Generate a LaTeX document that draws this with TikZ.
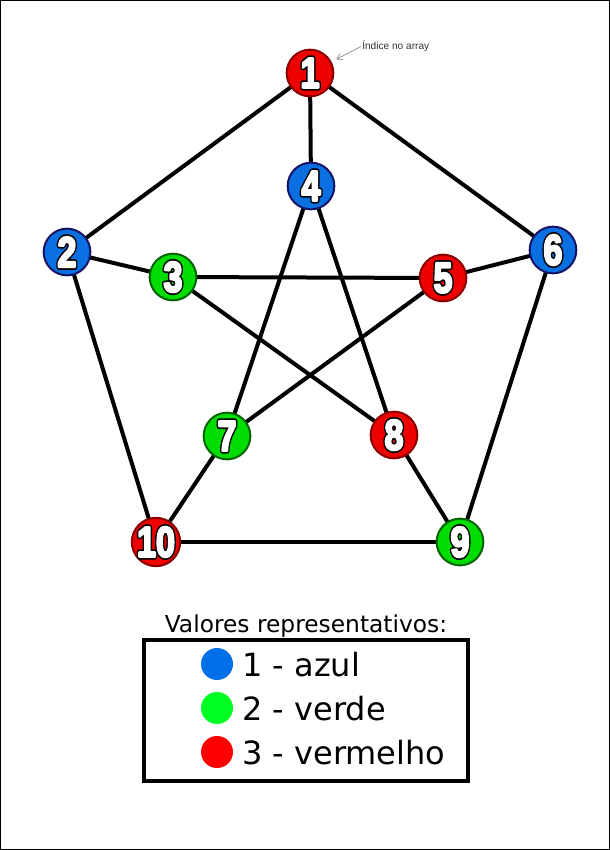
\documentclass[tikz,border=0pt]{standalone}
\usepackage{fontspec}
\setmainfont{DejaVu Sans}
\newfontfamily\numfont{Liberation Sans}
\newfontfamily\annfont{Liberation Sans}
\usetikzlibrary{arrows.meta}
\definecolor{redfill}{HTML}{EE0000}
\definecolor{redline}{HTML}{8A0000}
\definecolor{bluefill}{HTML}{0A6FE0}
\definecolor{blueline}{HTML}{141466}
\definecolor{greenfill}{HTML}{00DD00}
\definecolor{greenline}{HTML}{006400}
\definecolor{legblue}{HTML}{0070E8}
\definecolor{leggreen}{HTML}{00FF22}
\definecolor{legred}{HTML}{FF0000}
\definecolor{anncol}{HTML}{333333}
\definecolor{arrcol}{HTML}{888888}
\newcommand{\olnum}[1]{\scalebox{0.8}[1]{%
  \rlap{\special{pdf:literal direct q 2 Tr 4.4 w 1 j 0 0 0 RG 0 0 0 rg}#1\special{pdf:literal direct Q}}%
  \special{pdf:literal direct q 2 Tr 1.8 w 1 j 1 1 1 RG 1 1 1 rg}#1\special{pdf:literal direct Q}}}
\tikzset{
  vtx/.style={circle, minimum size=35pt, inner sep=0pt, line width=1.5pt,
    font=\numfont\bfseries\fontsize{32}{32}\selectfont},
  rv/.style={vtx, fill=redfill, draw=redline},
  bv/.style={vtx, fill=bluefill, draw=blueline},
  gv/.style={vtx, fill=greenfill, draw=greenline},
  edge/.style={line width=3pt, black},
  legdot/.style={circle, minimum size=24pt, inner sep=0pt},
  legtext/.style={anchor=base west, inner sep=0pt, font=\fontsize{24}{24}\selectfont},
}
\begin{document}
\begin{tikzpicture}[x=0.75pt, y=-0.75pt]
\useasboundingbox (0,0) rectangle (610,850);
\draw[line width=0.75pt] (0.5,0.5) rectangle (609.5,849.5);
% vertex positions
\coordinate (p1) at (310,73);
\coordinate (p4) at (311,186);
\coordinate (p2) at (67,252);
\coordinate (p6) at (553,250);
\coordinate (p3) at (173,277);
\coordinate (p5) at (443,278);
\coordinate (p7) at (227,436);
\coordinate (p8) at (394,435);
\coordinate (p10) at (156,542);
\coordinate (p9) at (460,542);
% edges
\draw[edge] (p1) -- (p2);
\draw[edge] (p1) -- (p4);
\draw[edge] (p1) -- (p6);
\draw[edge] (p2) -- (p3);
\draw[edge] (p2) -- (p10);
\draw[edge] (p3) -- (p5);
\draw[edge] (p3) -- (p8);
\draw[edge] (p4) -- (p7);
\draw[edge] (p4) -- (p8);
\draw[edge] (p5) -- (p6);
\draw[edge] (p5) -- (p7);
\draw[edge] (p6) -- (p9);
\draw[edge] (p7) -- (p10);
\draw[edge] (p8) -- (p9);
\draw[edge] (p10) -- (p9);
% vertices
\node[rv] (n1) at (p1) {\olnum{1}};
\node[bv] (n4) at (p4) {\olnum{4}};
\node[bv] (n2) at (p2) {\olnum{2}};
\node[bv] (n6) at (p6) {\olnum{6}};
\node[gv] (n3) at (p3) {\olnum{3}};
\node[rv] (n5) at (p5) {\olnum{5}};
\node[gv] (n7) at (p7) {\olnum{7}};
\node[rv] (n8) at (p8) {\olnum{8}};
\node[rv] (n10) at (p10) {\olnum{10}};
\node[gv] (n9) at (p9) {\olnum{9}};
% annotation
\node[anchor=west, inner sep=0pt, text=anncol, font=\annfont\fontsize{7.6}{7.6}\selectfont] (ann) at (362,46) {Índice no array};
\draw[arrcol, line width=0.5pt, -{Straight Barb[length=4pt, width=5pt]}, shorten <=1pt, shorten >=4pt] (ann.west) -- (n1);
% legend
\node[anchor=base, inner sep=0pt, font=\fontsize{17.5}{17.5}\selectfont] (title) at (306,632) {Valores representativos:};
\node[draw, line width=3pt, minimum width=243pt, minimum height=105.75pt, inner sep=0pt] (legend) at (306,710.5) {};
\node[legdot, fill=legblue] (lb) at (217,664) {};
\node[legdot, fill=leggreen] (lg) at (217,708) {};
\node[legdot, fill=legred] (lr) at (217,752) {};
\node[legtext] (tb) at (242,676) {1 - azul};
\node[legtext] (tg) at (242,720) {2 - verde};
\node[legtext] (tr) at (242,764) {3 - vermelho};
\end{tikzpicture}
\end{document}
